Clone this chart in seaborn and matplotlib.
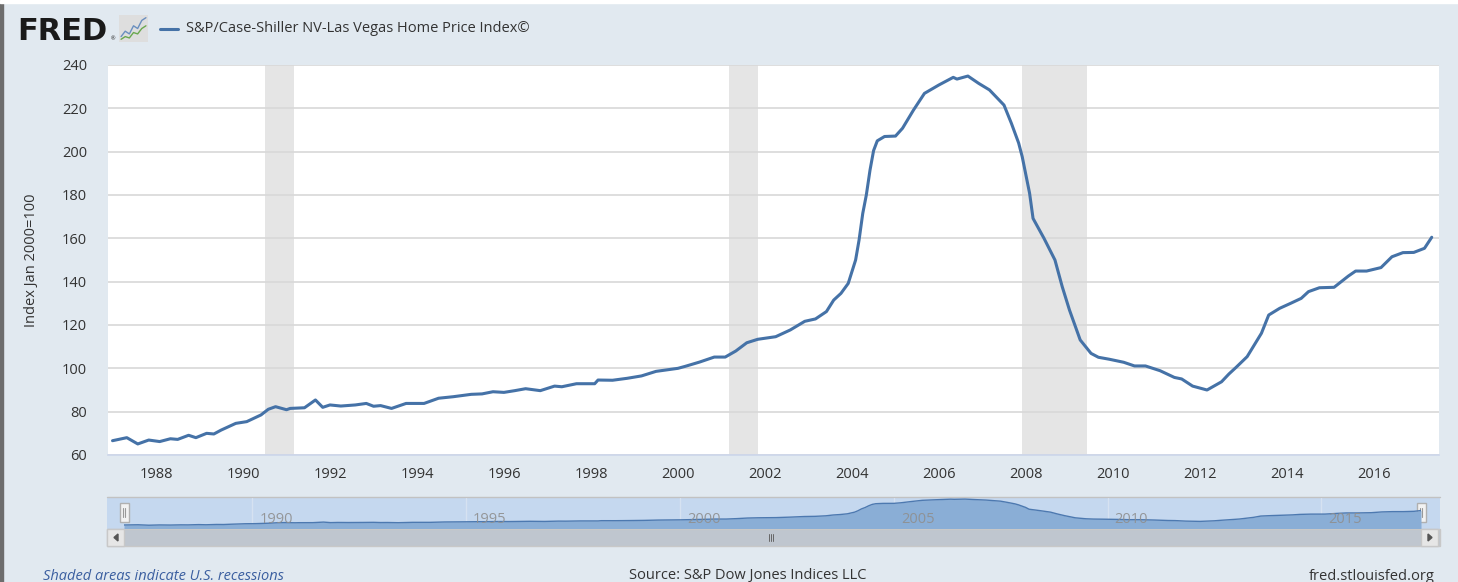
import numpy as np
import pandas as pd
import seaborn as sns
import matplotlib.pyplot as plt
import matplotlib.dates as mdates
from matplotlib.patches import Rectangle

# monthly readings of the index
dates = ['1987-01', '1987-05', '1987-08', '1987-11', '1988-02', '1988-05', '1988-07', '1988-10',
         '1988-12', '1989-03', '1989-05', '1989-07', '1989-11', '1990-02', '1990-06', '1990-08',
         '1990-10', '1991-01', '1991-02', '1991-06', '1991-09', '1991-11', '1992-01', '1992-04',
         '1992-08', '1992-11', '1993-01', '1993-03', '1993-06', '1993-10', '1994-03', '1994-07',
         '1994-11', '1995-04', '1995-07', '1995-10', '1996-01', '1996-04', '1996-07', '1996-11',
         '1997-03', '1997-05', '1997-09', '1998-02', '1998-03', '1998-07', '1998-11', '1999-03',
         '1999-07', '2000-01', '2000-03', '2000-07', '2000-11', '2001-02', '2001-05', '2001-08',
         '2001-11', '2002-04', '2002-08', '2002-12', '2003-03', '2003-06', '2003-08', '2003-10',
         '2003-12', '2004-02', '2004-03', '2004-04', '2004-05', '2004-06', '2004-07', '2004-08',
         '2004-10', '2005-01', '2005-03', '2005-06', '2005-09', '2006-01', '2006-05', '2006-06',
         '2006-09', '2006-12', '2007-03', '2007-07', '2007-09', '2007-11', '2007-12', '2008-02',
         '2008-03', '2008-06', '2008-09', '2008-11', '2009-01', '2009-04', '2009-07', '2009-09',
         '2009-12', '2010-04', '2010-07', '2010-10', '2011-02', '2011-06', '2011-08', '2011-11',
         '2012-03', '2012-07', '2012-09', '2012-11', '2013-02', '2013-06', '2013-08', '2013-11',
         '2014-02', '2014-05', '2014-07', '2014-10', '2015-02', '2015-06', '2015-08', '2015-11',
         '2016-03', '2016-06', '2016-09', '2016-12', '2017-03', '2017-05']
values = [66.6, 68.0, 65.1, 66.9, 66.2, 67.5, 67.2, 69.1,
          68.0, 70.0, 69.7, 71.5, 74.6, 75.4, 78.5, 81.1,
          82.3, 80.9, 81.5, 81.8, 85.4, 82.0, 83.1, 82.6,
          83.1, 83.8, 82.5, 82.8, 81.5, 83.8, 83.8, 86.2,
          86.9, 88.0, 88.2, 89.2, 88.9, 89.7, 90.6, 89.7,
          91.8, 91.5, 92.9, 92.9, 94.6, 94.5, 95.4, 96.5,
          98.6, 100.0, 100.9, 102.9, 105.2, 105.2, 108.0, 111.8,
          113.4, 114.6, 117.7, 121.7, 122.8, 126.2, 131.5, 134.6,
          139.2, 150.0, 159.2, 171.5, 180.0, 191.5, 200.5, 205.0,
          207.0, 207.2, 210.8, 219.2, 226.9, 230.8, 234.3, 233.5,
          234.9, 231.5, 228.5, 221.5, 213.1, 204.0, 197.7, 180.8,
          169.2, 160.0, 150.0, 137.7, 126.9, 113.1, 106.9, 105.1,
          104.2, 102.8, 101.1, 101.1, 98.9, 95.8, 95.1, 91.8,
          90.0, 93.8, 97.4, 100.5, 105.4, 116.2, 124.6, 127.7,
          130.0, 132.3, 135.4, 137.2, 137.4, 142.6, 144.9, 144.9,
          146.5, 151.5, 153.4, 153.5, 155.4, 160.5]

recession_starts = ['1990-07-01', '2001-03-01', '2007-12-01']
recession_ends = ['1991-03-01', '2001-11-01', '2009-06-01']

y_ticks = [60, 80, 100, 120, 140, 160, 180, 200, 220, 240]
x_tick_years = list(range(1988, 2017, 2))
nav_years = [1990, 1995, 2000, 2005, 2010, 2015]

series_name = 'S&P/Case-Shiller NV-Las Vegas Home Price Index©'
y_label = 'Index Jan 2000=100'

df = pd.DataFrame({'date': pd.to_datetime(dates), 'value': values})

BG = '#e1e9f0'
LINE = '#4572a7'
TXT = '#333333'
W, H = 1458, 582

sns.set_theme(style='white')
plt.rcParams['font.family'] = ['Open Sans', 'DejaVu Sans']

fig = plt.figure(figsize=(W / 100, H / 100), dpi=100, facecolor=BG)

# backdrop in pixel coordinates for the chrome around the chart
bg = fig.add_axes([0, 0, 1, 1], zorder=0)
bg.set_xlim(0, W)
bg.set_ylim(H, 0)
bg.axis('off')
bg.add_patch(Rectangle((0, 0), 3, H, color='#6d6d6d'))
bg.add_patch(Rectangle((0, 0), W, 3, color='white'))

# main chart
ax = fig.add_axes([108 / W, 1 - 455 / H, (1439 - 108) / W, (455 - 65) / H], zorder=2)
ax.set_facecolor('white')
for s, e in zip(recession_starts, recession_ends):
    ax.axvspan(pd.Timestamp(s), pd.Timestamp(e), color='#e5e5e5', lw=0, zorder=0)
sns.lineplot(data=df, x='date', y='value', ax=ax, color=LINE, linewidth=2.2, zorder=3)
ax.set_xlim(pd.Timestamp('1986-11-24'), pd.Timestamp('2017-07-01'))
ax.set_ylim(60, 240)
ax.set_yticks(y_ticks)
ax.set_xticks([pd.Timestamp(f'{y}-01-01') for y in x_tick_years])
ax.xaxis.set_major_formatter(mdates.DateFormatter('%Y'))
ax.grid(axis='y', color='#d8d8d8', lw=1.2)
ax.grid(axis='x', visible=False)
ax.set_axisbelow(True)
for side in ['top', 'right', 'left']:
    ax.spines[side].set_visible(False)
ax.spines['bottom'].set_color('#ccd6eb')
ax.spines['bottom'].set_linewidth(1.2)
ax.tick_params(axis='x', length=6, width=1, color='#ccd6eb', pad=3, labelsize=10.5, labelcolor=TXT)
ax.tick_params(axis='y', length=0, pad=15, labelsize=10.5, labelcolor=TXT)
ax.set_xlabel('')
ax.set_ylabel('')
fig.text(32 / W, 1 - 260 / H, y_label, rotation=90, ha='center', va='center', fontsize=10.5, color=TXT)

# header: logo and legend
bg.text(17, 31, 'FRED', fontsize=22, fontweight='bold', color='#1a1a1a', va='center', ha='left',
        family='DejaVu Sans')
bg.text(111, 39, '®', fontsize=4, color='#1a1a1a', va='center')
icon = fig.add_axes([119 / W, 1 - 42 / H, 29 / W, 27 / H], zorder=3)
icon.set_facecolor('#dedede')
icon.plot([0, 1, 2, 3, 4, 5, 6], [1, 3, 2, 5, 4, 7, 8], color='#6a8fbf', lw=1)
icon.plot([0, 1, 2, 3, 4, 5, 6], [0, 1, 0.5, 2.5, 2, 4, 5], color='#6aa84f', lw=1)
icon.set_xlim(-0.5, 6.5)
icon.set_ylim(-1, 9)
icon.set_xticks([])
icon.set_yticks([])
for sp in icon.spines.values():
    sp.set_visible(False)
bg.plot([160, 178], [29, 29], color=LINE, lw=2.2)
bg.text(186, 29, series_name, fontsize=10.5, color=TXT, va='center', ha='left')

# navigator
bg.add_patch(Rectangle((107, 497), 1333, 32, facecolor='#c5d8ef', edgecolor='none'))
bg.plot([107, 1440], [497, 497], color='#c2c2c2', lw=1)
nav = fig.add_axes([124 / W, 1 - 528 / H, (1421 - 124) / W, 30 / H], zorder=2)
nav.set_facecolor('#c5d8ef')
nav.set_xlim(df['date'].iloc[0], df['date'].iloc[-1])
nav.set_ylim(47, 242)
nav.fill_between(df['date'], df['value'], 0, color='#8aaed6', lw=0, zorder=2)
for y in nav_years:
    t = pd.Timestamp(f'{y}-01-01')
    nav.axvline(t, color='#d6e2f1', lw=1, zorder=1)
    nav.text(t + pd.Timedelta(days=60), 100, str(y), fontsize=10.5, color='#8f8f8f', va='center',
             ha='left', zorder=4, alpha=0.9)
sns.lineplot(data=df, x='date', y='value', ax=nav, color='#4d79b0', linewidth=1, zorder=3)
nav.axis('off')

# navigator handles
for hx in [120, 1417]:
    bg.add_patch(Rectangle((hx, 503), 9, 19, facecolor='#f2f2f2', edgecolor='#b0b0b0', lw=1, zorder=5))
    bg.plot([hx + 3.5, hx + 3.5], [508, 517], color='#999999', lw=0.8, zorder=6)
    bg.plot([hx + 5.5, hx + 5.5], [508, 517], color='#999999', lw=0.8, zorder=6)

# scrollbar
bg.add_patch(Rectangle((107, 529), 1333, 17, facecolor='#bfc6cf', edgecolor='#c8c8c8', lw=1))
bg.add_patch(Rectangle((107, 529), 17, 17, facecolor='#e6e6e6', edgecolor='#c8c8c8', lw=1))
bg.add_patch(Rectangle((1421, 529), 17, 17, facecolor='#e6e6e6', edgecolor='#c8c8c8', lw=1))
bg.fill([118, 118, 114], [534, 541, 537.5], color='#555555')
bg.fill([1428, 1428, 1432], [534, 541, 537.5], color='#555555')
for dx in [-2, 0, 2]:
    bg.plot([771 + dx, 771 + dx], [534, 541], color='#666666', lw=0.7)

# footer
bg.text(43, 576, 'Shaded areas indicate U.S. recessions', fontsize=10.5, style='italic',
        color='#3b5fa0', va='center', ha='left')
bg.text(748, 576, 'Source: S&P Dow Jones Indices LLC', fontsize=10.5, color=TXT, va='center', ha='center')
bg.text(1435, 576, 'fred.stlouisfed.org', fontsize=10.5, color=TXT, va='center', ha='right')

fig.savefig('out.png', dpi=100, facecolor=BG)
